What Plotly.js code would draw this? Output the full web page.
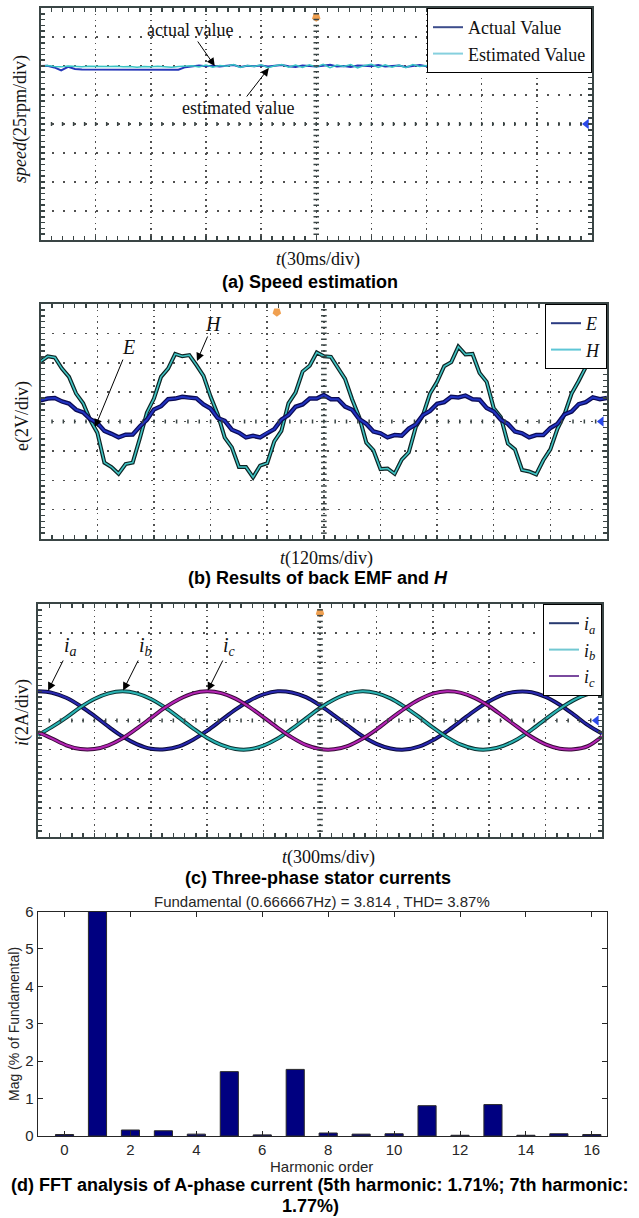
<!DOCTYPE html>
<html><head><meta charset="utf-8">
<script src="https://cdn.plot.ly/plotly-3.0.1.min.js"></script>
<style>html,body{margin:0;padding:0;background:#fff;}#chart{width:639px;height:1218px;}</style>
</head><body><div id="chart"></div>
<script>
// ---------- DATA (values in oscilloscope divisions) ----------
const nA = 81;
const timeDivA = Array.from({length: nA}, (_, i) => i * 0.125);   // sampling grid, panel (a)/(b)
const speedActual = [2.00,2.01,1.95,1.85,1.97,1.90,1.88,1.88,1.87,1.88,
  1.88,1.87,1.88,1.88,1.87,1.88,1.88,1.87,1.88,1.88,
  1.87,1.96,2.00,2.02,1.99,2.01,1.98,2.00,2.03,1.97,
  2.01,1.99,2.02,1.98,2.00,2.03,1.99,1.97,2.02,2.00,
  1.98,2.01,2.04,1.98,2.00,1.97,2.02,2.01,1.99,2.03,
  1.98,2.00,2.02,1.97,2.01,2.03,1.99,2.00,1.98,2.02,
  2.00,1.99,2.01,1.97,2.00,2.02,1.99,2.01,1.98,2.00,
  1.99,1.93,1.92,1.92,1.93,1.92,1.92,1.93,1.92,1.97,
  1.95];
const speedEstimated = [1.99,2.02,1.98,1.97,2.00,1.98,1.97,1.99,1.98,1.97,
  1.98,1.99,1.97,1.98,1.96,1.98,1.97,1.99,1.98,1.96,
  1.98,1.99,2.01,1.97,2.03,1.96,2.02,1.99,2.05,1.95,
  2.02,1.98,2.04,1.94,2.01,2.05,1.96,2.03,1.95,2.04,
  1.97,2.06,1.94,2.03,1.98,2.05,1.93,2.02,2.06,1.95,
  2.04,1.96,2.03,1.94,2.05,1.98,2.02,1.95,2.04,1.97,
  2.03,1.96,2.02,1.98,2.01,1.97,2.03,1.99,2.01,1.98,
  2.00,1.98,2.02,1.99,2.01,2.03,1.98,2.02,2.00,2.01,
  1.99];
const backEmfE = [0.72,0.78,0.80,0.68,0.61,0.40,0.31,0.08,-0.05,-0.32,
  -0.42,-0.54,-0.45,-0.44,-0.17,0.06,0.41,0.52,0.76,0.78,
  0.84,0.80,0.79,0.58,0.44,0.12,0.02,-0.28,-0.38,-0.54,
  -0.49,-0.54,-0.38,-0.26,0.06,0.22,0.50,0.58,0.78,0.78,
  0.90,0.76,0.76,0.51,0.40,0.08,-0.08,-0.34,-0.40,-0.54,
  -0.46,-0.48,-0.24,-0.10,0.22,0.36,0.60,0.66,0.84,0.82,
  0.88,0.76,0.74,0.46,0.34,0.06,-0.08,-0.34,-0.40,-0.54,
  -0.46,-0.46,-0.22,-0.08,0.24,0.34,0.59,0.66,0.82,0.76,
  0.80];
const valueH = [2.05,2.22,2.18,1.80,1.52,0.95,0.62,0.05,-0.38,-1.40,
  -1.55,-1.78,-1.45,-1.40,-0.58,0.30,0.78,1.52,1.80,2.30,
  2.22,2.26,1.92,1.55,0.85,0.25,-0.55,-0.88,-1.55,-1.55,
  -1.90,-1.50,-1.42,-0.68,-0.32,0.62,0.98,1.70,1.90,2.35,
  2.22,2.20,1.82,1.45,0.75,0.15,-0.72,-0.98,-1.62,-1.60,
  -1.78,-1.30,-1.05,-0.18,0.22,0.95,1.35,1.88,2.02,2.55,
  2.28,2.30,1.65,1.35,0.45,0.15,-0.75,-0.95,-1.65,-1.70,
  -1.80,-1.32,-0.95,-0.25,0.25,0.95,1.38,1.85,2.05,2.30,
  2.22];
const nC = 41;
const timeDivC = Array.from({length: nC}, (_, i) => i * 0.25);
const currentA = [1.00,0.95,0.78,0.50,0.16,-0.21,-0.55,-0.81,-0.97,-0.99,
  -0.89,-0.66,-0.35,0.01,0.37,0.68,0.90,1.00,0.96,0.80,
  0.52,0.18,-0.18,-0.53,-0.80,-0.96,-1.00,-0.90,-0.68,-0.37,
  -0.01,0.35,0.66,0.89,0.99,0.97,0.81,0.54,0.20,-0.16,-0.45];
const currentB = [-0.50,-0.22,0.10,0.45,0.74,0.93,1.00,0.93,0.74,0.45,
  0.10,-0.27,-0.60,-0.84,-0.98,-0.99,-0.86,-0.62,-0.29,0.07,
  0.43,0.72,0.92,1.00,0.94,0.76,0.47,0.13,-0.24,-0.57,
  -0.83,-0.98,-0.99,-0.87,-0.64,-0.32,0.05,0.40,0.70,0.91,1.00];
const currentC = [-0.40,-0.62,-0.85,-0.98,-0.98,-0.85,-0.61,-0.28,0.08,0.44,
  0.73,0.93,1.00,0.94,0.75,0.46,0.11,-0.25,-0.58,-0.84,
  -0.98,-0.99,-0.87,-0.63,-0.31,0.06,0.41,0.71,0.92,1.00,
  0.95,0.77,0.49,0.14,-0.22,-0.56,-0.82,-0.97,-0.99,-0.88,-0.55];
const harmonicOrder = [0,1,2,3,4,5,6,7,8,9,10,11,12,13,14,15,16];
const harmonicMag = [0.04,100,0.16,0.14,0.05,1.72,0.03,1.78,0.08,0.05,0.06,0.81,0.02,0.84,0.02,0.06,0.04];
const harmonicTicks = [0,2,4,6,8,10,12,14,16];
const triggerPos = [5, 4.17, 5];      // trigger marker position (div) per scope
const groundLevel = 0;                 // ground marker level (div)

// ---------- helpers ----------
const W = 639, HT = 1218;
const px = p => p / W;
const py = p => 1 - p / HT;
const SERIF = 'Liberation Serif, Times New Roman, serif';
const SANS = 'Liberation Sans, Arial, sans-serif';
const FRAME = '#3a4545';

function scopeX(d, anchor) {
  return {domain: d, anchor: anchor, range: [0, 10], showticklabels: false,
    ticks: 'inside', ticklen: 4, tickcolor: FRAME, tickwidth: 1.5, dtick: 1, tick0: 0,
    showgrid: true, gridcolor: '#505050', gridwidth: 1.5, griddash: '1.5px,4.3px',
    showline: true, linecolor: FRAME, linewidth: 2, mirror: 'allticks', zeroline: false,
    minor: {ticks: 'inside', ticklen: 4, dtick: 0.2, tick0: 0, tickcolor: FRAME, tickwidth: 1.5, showgrid: false},
    fixedrange: true};
}
function scopeY(d, anchor) {
  return {domain: d, anchor: anchor, range: [-4, 4], showticklabels: false,
    ticks: 'inside', ticklen: 4, tickcolor: FRAME, tickwidth: 1.5, dtick: 1, tick0: 0,
    showgrid: true, gridcolor: '#505050', gridwidth: 1.5, griddash: '2px,9px',
    showline: true, linecolor: FRAME, linewidth: 2, mirror: 'allticks', zeroline: false,
    minor: {ticks: 'inside', ticklen: 4, dtick: 0.2, tick0: 0, tickcolor: FRAME, tickwidth: 1.5, showgrid: false},
    fixedrange: true};
}

const traces = [];
function line(x, y, xa, ya, color, width, shape) {
  traces.push({x: x, y: y, xaxis: xa, yaxis: ya, type: 'scatter', mode: 'lines',
    line: {color: color, width: width, shape: shape || 'linear'}, showlegend: false, hoverinfo: 'skip'});
}
function legendOnly(name, color, xa, ya, leg) {
  traces.push({x: [null], y: [null], xaxis: xa, yaxis: ya, type: 'scatter', mode: 'lines',
    name: name, line: {color: color, width: 2}, showlegend: true, legend: leg});
}
function decor(xa, ya, trig, shieldY) {
  traces.push({x: [trig], y: [4.2], xaxis: xa, yaxis: ya, type: 'scatter', mode: 'markers',
    marker: {symbol: 'triangle-down', size: 8, color: '#f5b030'}, cliponaxis: false, showlegend: false, hoverinfo: 'skip'});
  traces.push({x: [trig], y: [shieldY], xaxis: xa, yaxis: ya, type: 'scatter', mode: 'markers',
    marker: {symbol: 'pentagon', angle: 180, size: 9, color: '#f0a050'}, cliponaxis: false, showlegend: false, hoverinfo: 'skip'});
  traces.push({x: [9.9], y: [groundLevel], xaxis: xa, yaxis: ya, type: 'scatter', mode: 'markers',
    marker: {symbol: 'triangle-left', size: 9, color: '#2a48e8'}, cliponaxis: false, showlegend: false, hoverinfo: 'skip'});
}

// (a) speed
line(timeDivA, speedActual, 'x', 'y', '#2436b8', 2);
line(timeDivA, speedEstimated, 'x', 'y', '#38c4c4', 1.5);
legendOnly('Actual Value', '#3d4d8c', 'x', 'y', 'legend');
legendOnly('Estimated Value', '#86d0de', 'x', 'y', 'legend');
decor('x', 'y', triggerPos[0], 3.68);

// (b) back EMF and H
line(timeDivA, valueH, 'x2', 'y2', '#0d2424', 4);
line(timeDivA, valueH, 'x2', 'y2', '#40c4c4', 1.6);
line(timeDivA, backEmfE, 'x2', 'y2', '#0b0b55', 4.5);
line(timeDivA, backEmfE, 'x2', 'y2', '#2233c0', 2);
legendOnly('<i>E</i>', '#2b3b82', 'x2', 'y2', 'legend2');
legendOnly('<i>H</i>', '#5ec6d6', 'x2', 'y2', 'legend2');
decor('x2', 'y2', triggerPos[1], 3.72);

// (c) currents
line(timeDivC, currentA, 'x3', 'y3', '#0a0a3a', 4, 'spline');
line(timeDivC, currentA, 'x3', 'y3', '#2828b0', 2, 'spline');
line(timeDivC, currentB, 'x3', 'y3', '#0a3030', 4, 'spline');
line(timeDivC, currentB, 'x3', 'y3', '#2ab4b4', 2, 'spline');
line(timeDivC, currentC, 'x3', 'y3', '#3a0a3a', 4, 'spline');
line(timeDivC, currentC, 'x3', 'y3', '#b424b4', 2, 'spline');
legendOnly('<i>i<sub>a</sub></i>', '#283a70', 'x3', 'y3', 'legend3');
legendOnly('<i>i<sub>b</sub></i>', '#72c8d2', 'x3', 'y3', 'legend3');
legendOnly('<i>i<sub>c</sub></i>', '#7a4a9e', 'x3', 'y3', 'legend3');
decor('x3', 'y3', triggerPos[2], 3.7);

// (d) FFT bars
traces.push({x: harmonicOrder, y: harmonicMag, xaxis: 'x4', yaxis: 'y4', type: 'bar', width: 0.55,
  marker: {color: '#000080', line: {color: '#2a2a2a', width: 1}}, showlegend: false, hoverinfo: 'skip'});

// centre-cross graticule ticks (decoration)
const shapes = [];
[['x', 'y'], ['x2', 'y2'], ['x3', 'y3']].forEach(([xa, ya]) => {
  for (let k = 1; k < 50; k++) {
    shapes.push({type: 'line', xref: xa, yref: ya, x0: k * 0.2, x1: k * 0.2, y0: -0.07, y1: 0.07,
      line: {color: FRAME, width: 1.5}});
  }
  for (let k = 1; k < 40; k++) {
    shapes.push({type: 'line', xref: xa, yref: ya, x0: 4.95, x1: 5.05, y0: -4 + k * 0.2, y1: -4 + k * 0.2,
      line: {color: FRAME, width: 1.5}});
  }
});

const serif18 = {family: SERIF, size: 18, color: '#111'};
const capFont = {family: SANS, size: 18, color: '#000'};
const fftFont = {family: SANS, size: 15, color: '#262626'};
function pa(x, y, text, font, extra) {
  return Object.assign({xref: 'paper', yref: 'paper', x: px(x), y: py(y), text: text, showarrow: false,
    font: font, xanchor: 'center', yanchor: 'middle'}, extra || {});
}
function arrow(xa, ya, x, y, ax, ay, text, font) {
  return {xref: xa, yref: ya, x: x, y: y, ax: ax, ay: ay, text: text, font: font, showarrow: true,
    arrowhead: 2, arrowsize: 1.6, arrowwidth: 1, arrowcolor: '#000', standoff: 0, startstandoff: 0};
}
const symFont = {family: SERIF, size: 20, color: '#111'};

const annotations = [
  // (a)
  pa(20, 119, '<i>speed</i>(25rpm/div)', serif18, {textangle: -90}),
  pa(318, 260, '<i>t</i>(30ms/div)', serif18),
  pa(310, 282, '<b>(a) Speed estimation</b>', capFont),
  arrow('x', 'y', 3.16, 2.0, -25, -36, 'actual value', serif18),
  arrow('x', 'y', 4.14, 1.93, -31, 40, 'estimated value', serif18),
  // (b)
  pa(22, 416, 'e(2V/div)', serif18, {textangle: -90}),
  pa(327, 558, '<i>t</i>(120ms/div)', serif18),
  pa(318, 578, '<b>(b) Results of back EMF and <i>H</i></b>', capFont),
  arrow('x2', 'y2', 0.96, -0.19, 33, -80, '<i>E</i>', symFont),
  arrow('x2', 'y2', 2.76, 2.06, 16, -37, '<i>H</i>', symFont),
  // (c)
  pa(22, 713, '<i>i</i>(2A/div)', serif18, {textangle: -90}),
  pa(328, 857, '<i>t</i>(300ms/div)', serif18),
  pa(318, 878, '<b>(c) Three-phase stator currents</b>', capFont),
  arrow('x3', 'y3', 0.18, 1.03, 22, -44, '<i>i<sub>a</sub></i>', symFont),
  arrow('x3', 'y3', 1.51, 1.03, 22, -44, '<i>i<sub>b</sub></i>', symFont),
  arrow('x3', 'y3', 3.01, 1.03, 22, -44, '<i>i<sub>c</sub></i>', symFont),
  // (d)
  pa(322, 901, 'Fundamental (0.666667Hz) = 3.814 , THD= 3.87%', fftFont),
  pa(322, 1166, 'Harmonic order', fftFont),
  pa(14, 1024, 'Mag (% of Fundamental)', {family: SANS, size: 14, color: '#262626'}, {textangle: -90}),
  pa(319, 1185, '<b>(d) FFT analysis of A-phase current (5th harmonic: 1.71%; 7th harmonic:</b>', capFont),
  pa(310, 1206, '<b>1.77%)</b>', capFont)
];

function legendBox(x, y) {
  return {x: px(x), y: py(y), xanchor: 'right', yanchor: 'top', bordercolor: '#000', borderwidth: 1,
    bgcolor: '#fff', font: serif18, itemwidth: 30, tracegroupgap: 0};
}

const layout = {
  width: W, height: HT, margin: {l: 0, r: 0, t: 0, b: 0},
  paper_bgcolor: '#fff', plot_bgcolor: '#fff', showlegend: true,
  xaxis: scopeX([px(40.5), px(592)], 'y'),
  yaxis: scopeY([py(240), py(8)], 'x'),
  xaxis2: scopeX([px(40.7), px(607)], 'y2'),
  yaxis2: scopeY([py(539), py(304)], 'x2'),
  xaxis3: scopeX([px(38), px(602)], 'y3'),
  yaxis3: scopeY([py(837), py(604)], 'x3'),
  xaxis4: {domain: [px(37.5), px(607)], anchor: 'y4', range: [-0.82, 16.46], tickvals: harmonicTicks,
    ticks: 'inside', ticklen: 5, tickcolor: '#262626', showline: true, linecolor: '#262626', linewidth: 1,
    mirror: 'allticks', showgrid: false, zeroline: false, tickfont: fftFont, fixedrange: true},
  yaxis4: {domain: [py(1136), py(911.5)], anchor: 'x4', range: [0, 6], dtick: 1,
    ticks: 'inside', ticklen: 5, tickcolor: '#262626', showline: true, linecolor: '#262626', linewidth: 1,
    mirror: 'allticks', showgrid: false, zeroline: false, tickfont: fftFont, fixedrange: true},
  legend: legendBox(592, 8),
  legend2: legendBox(607, 304),
  legend3: legendBox(602, 604),
  shapes: shapes,
  annotations: annotations
};

Plotly.newPlot('chart', traces, layout, {staticPlot: true, displayModeBar: false});
</script></body></html>
